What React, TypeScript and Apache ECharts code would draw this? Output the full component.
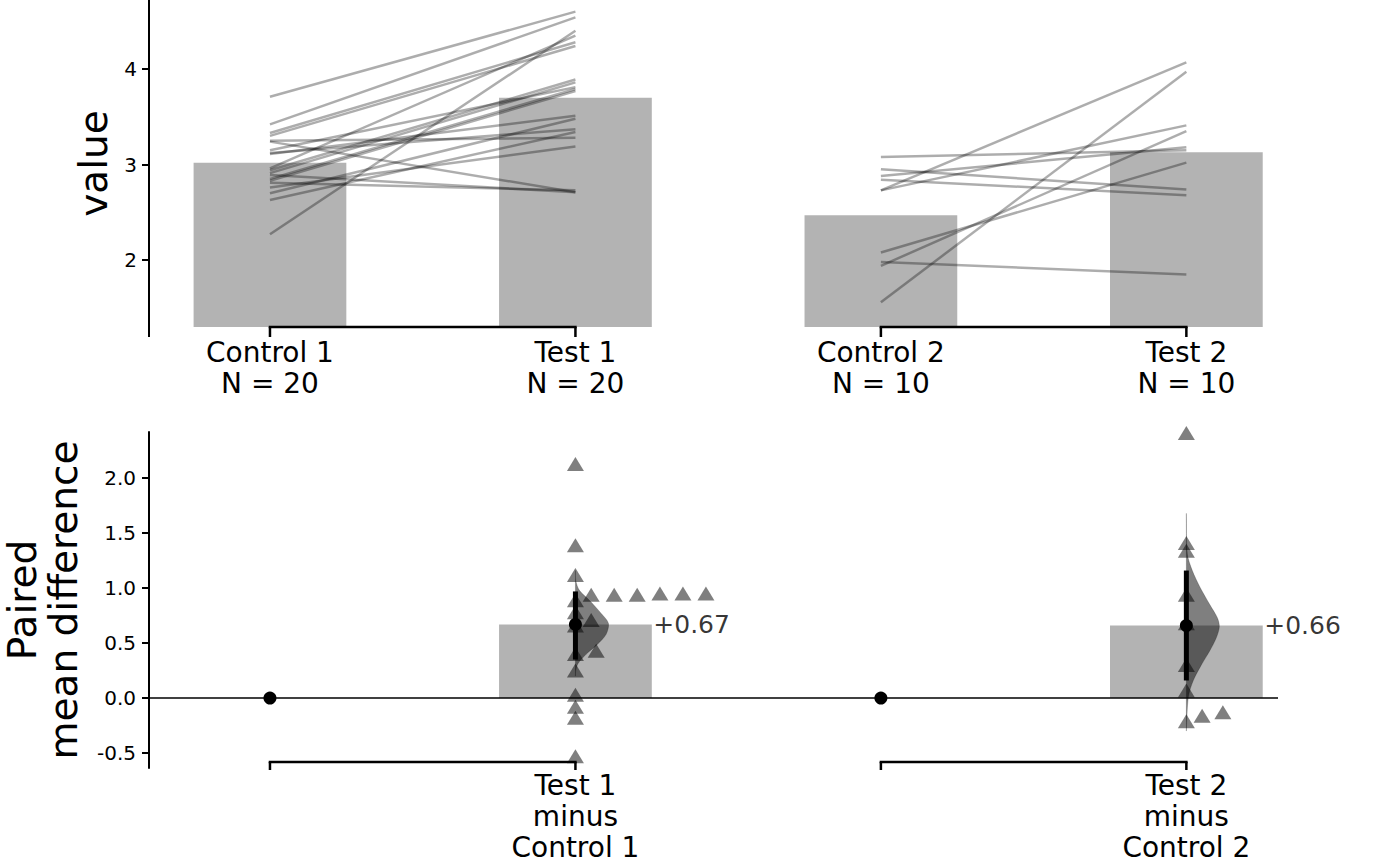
import React, { useEffect, useRef } from "react";
import * as echarts from "echarts";

const FONT = "DejaVu Sans";

// ---------- data ----------
const categories = ["Control 1", "Test 1", "Control 2", "Test 2"];
const sampleSizes = [20, 20, 10, 10];
const groupMeans = [3.02, 3.7, 2.47, 3.13];

const control1 = [3.71, 3.42, 2.27, 2.96, 3.33, 3.3, 3.25, 3.24, 2.89, 2.81, 2.94, 2.91, 2.85, 2.83, 2.7, 3.12, 2.63, 2.76, 3.15, 3.11];
const test1 = [4.6, 4.54, 4.4, 4.35, 4.28, 4.24, 3.28, 2.71, 2.71, 2.73, 3.89, 3.86, 3.79, 3.77, 3.48, 3.37, 3.34, 3.19, 3.81, 3.51];
const control2 = [1.56, 2.73, 2.73, 2.08, 1.94, 1.98, 3.08, 2.95, 2.88, 2.84];
const test2 = [3.97, 4.07, 3.41, 3.02, 3.35, 1.85, 3.15, 2.74, 3.18, 2.68];

const topTicks = [2, 3, 4];
const diffTicks = [-0.5, 0, 0.5, 1, 1.5, 2];

const contrastLabels = ["Test 1\nminus\nControl 1", "Test 2\nminus\nControl 2"];
const contrastPositions = [1, 3];
const referencePositions = [0, 2];
const meanDiffs = [0.67, 0.66];
const ciLow = [0.35, 0.16];
const ciHigh = [0.97, 1.16];

const violin1Values = [1.16, 1.07, 0.98, 0.89, 0.77, 0.68, 0.58, 0.49, 0.4, 0.31, 0.25, 0.2];
const violin1Density = [0, 0.01, 0.12, 0.42, 0.78, 1.0, 0.93, 0.67, 0.33, 0.07, 0.01, 0];
const violin2Values = [1.68, 1.31, 1.16, 1.01, 0.85, 0.73, 0.65, 0.55, 0.43, 0.31, 0.16, 0.01, -0.3];
const violin2Density = [0, 0.03, 0.18, 0.41, 0.71, 0.94, 1.0, 0.91, 0.71, 0.47, 0.21, 0.06, 0];

// ---------- layout / style ----------
const X_MIN = -0.396;
const X_MAX = 3.3;
const TOP_MIN = 1.3;
const TOP_MAX = 4.722;
const DIFF_MIN = -0.636;
const DIFF_MAX = 2.42;
const GRID_LEFT = 149;
const GRID_WIDTH = 1129;
const TOP_GRID_TOP = 0;
const TOP_GRID_H = 327;
const BOT_GRID_TOP = 432;
const BOT_GRID_H = 336;
const BAR_HALF = 0.25;
const VIOLIN_HALF = 0.108;
const BAR_COLOR = "#b3b3b3";

const round2 = (v: number) => Math.round(v * 100) / 100;
const diffs1 = test1.map((t, i) => round2(t - control1[i]));
const diffs2 = test2.map((t, i) => round2(t - control2[i]));

function swarm(values: number[], center: number): number[][] {
  const pxPerX = GRID_WIDTH / (X_MAX - X_MIN);
  const pxPerY = BOT_GRID_H / (DIFF_MAX - DIFF_MIN);
  const W = 23;
  const H = 7.5;
  const order = values.map((_, i) => i).sort((a, b) => values[a] - values[b]);
  const placed: { x: number; y: number }[] = [];
  const out: number[][] = new Array(values.length);
  for (const i of order) {
    const ypx = values[i] * pxPerY;
    let dx = 0;
    for (let step = 0; step < 2000; step++) {
      dx = step * 0.25;
      const ok = placed.every((p) => ((p.x - dx) / W) ** 2 + ((p.y - ypx) / H) ** 2 >= 0.999);
      if (ok) break;
    }
    placed.push({ x: dx, y: ypx });
    out[i] = [center + dx / pxPerX, values[i]];
  }
  return out;
}

export default function App() {
  const ref = useRef<HTMLDivElement>(null);
  useEffect(() => {
    if (!ref.current) return;
    const chart = echarts.init(ref.current, undefined, { renderer: "svg" });

    const black = "#000";
    const lineSeries = [
      ...control1.map((c, i) => [c, test1[i], 0]),
      ...control2.map((c, i) => [c, test2[i], 2]),
    ].map(([c, t, x0]) => ({
      type: "line",
      xAxisIndex: 0,
      yAxisIndex: 0,
      data: [
        [x0, c],
        [x0 + 1, t],
      ],
      symbol: "none",
      silent: true,
      lineStyle: { color: "rgba(0,0,0,0.32)", width: 2.5 },
    }));

    const barRender = (base: number) => (params: any, api: any) => {
      const x = api.value(0);
      const v = api.value(1);
      const p1 = api.coord([x - BAR_HALF, v]);
      const p2 = api.coord([x + BAR_HALF, base]);
      return {
        type: "rect",
        shape: { x: p1[0], y: Math.min(p1[1], p2[1]), width: p2[0] - p1[0], height: Math.abs(p2[1] - p1[1]) },
        style: { fill: BAR_COLOR },
      };
    };

    const bracketRender = (yVal: number, offset: number, tickLen: number, spineExt: number) => (params: any, api: any) => {
      const a = api.coord([api.value(0), yVal]);
      const b = api.coord([api.value(1), yVal]);
      const y = a[1] + offset;
      const st = { stroke: black, lineWidth: 2.5 };
      const children: any[] = [
        { type: "line", shape: { x1: a[0] - 1.25, y1: y, x2: b[0] + 1.25, y2: y }, style: st },
        { type: "line", shape: { x1: a[0], y1: y, x2: a[0], y2: y + tickLen }, style: st },
        { type: "line", shape: { x1: b[0], y1: y, x2: b[0], y2: y + tickLen }, style: st },
      ];
      if (params.dataIndex === 0 && spineExt > 0) {
        const s = api.coord([X_MIN, yVal]);
        children.push({ type: "line", shape: { x1: s[0], y1: s[1], x2: s[0], y2: s[1] + spineExt }, style: { stroke: black, lineWidth: 2 } });
      }
      return { type: "group", children };
    };

    const violinSeries = (x: number, vals: number[], dens: number[]) => ({
      type: "custom",
      xAxisIndex: 1,
      yAxisIndex: 1,
      data: [[x]],
      silent: true,
      renderItem: (params: any, api: any) => {
        const pts: number[][] = [];
        vals.forEach((v, i) => pts.push(api.coord([x + dens[i] * VIOLIN_HALF, v])));
        for (let i = vals.length - 1; i >= 0; i--) pts.push(api.coord([x, vals[i]]));
        return {
          type: "polygon",
          shape: { points: pts, smooth: 0.3 },
          style: { fill: "rgba(0,0,0,0.5)", stroke: "rgba(0,0,0,0.25)", lineWidth: 0.8 },
        };
      },
    });

    const swarmPoints = [...swarm(diffs1, contrastPositions[0]), ...swarm(diffs2, contrastPositions[1])];

    const axisText = { color: black, fontFamily: FONT };

    const option: any = {
      animation: false,
      backgroundColor: "#fff",
      grid: [
        { left: GRID_LEFT, width: GRID_WIDTH, top: TOP_GRID_TOP, height: TOP_GRID_H, containLabel: false, outerBoundsMode: "none" },
        { left: GRID_LEFT, width: GRID_WIDTH, top: BOT_GRID_TOP, height: BOT_GRID_H, containLabel: false, outerBoundsMode: "none" },
      ],
      xAxis: [
        {
          gridIndex: 0,
          type: "value",
          min: X_MIN,
          max: X_MAX,
          axisLine: { show: false, onZero: false },
          axisTick: { show: false },
          splitLine: { show: false },
          axisLabel: {
            ...axisText,
            customValues: [0, 1, 2, 3],
            fontSize: 28,
            lineHeight: 31,
            margin: 10,
            formatter: (v: number) => {
              const i = Math.round(v);
              return `${categories[i]}\nN = ${sampleSizes[i]}`;
            },
          },
        },
        {
          gridIndex: 1,
          type: "value",
          min: X_MIN,
          max: X_MAX,
          axisLine: { show: false, onZero: false },
          axisTick: { show: false },
          splitLine: { show: false },
          axisLabel: {
            ...axisText,
            customValues: contrastPositions,
            fontSize: 28,
            lineHeight: 31,
            margin: 2,
            formatter: (v: number) => contrastLabels[contrastPositions.indexOf(Math.round(v))],
          },
        },
      ],
      yAxis: [
        {
          gridIndex: 0,
          type: "value",
          min: TOP_MIN,
          max: TOP_MAX,
          axisLine: { show: true, onZero: false, lineStyle: { color: black, width: 2 } },
          axisTick: { show: true, customValues: topTicks, length: 7, lineStyle: { color: black, width: 2 } },
          axisLabel: { ...axisText, customValues: topTicks, fontSize: 20, margin: 12, formatter: (v: number) => String(v) },
          splitLine: { show: false },
          name: "value",
          nameLocation: "middle",
          nameGap: 36,
          nameTextStyle: { ...axisText, fontSize: 39 },
        },
        {
          gridIndex: 1,
          type: "value",
          min: DIFF_MIN,
          max: DIFF_MAX,
          axisLine: { show: true, onZero: false, lineStyle: { color: black, width: 2 } },
          axisTick: { show: true, customValues: diffTicks, length: 7, lineStyle: { color: black, width: 2 } },
          axisLabel: { ...axisText, customValues: diffTicks, fontSize: 20, margin: 13, formatter: (v: number) => v.toFixed(1) },
          splitLine: { show: false },
          name: "Paired\nmean difference",
          nameLocation: "middle",
          nameGap: 65,
          nameTextStyle: { ...axisText, fontSize: 39, lineHeight: 41 },
        },
      ],
      series: [
        {
          type: "custom",
          xAxisIndex: 0,
          yAxisIndex: 0,
          data: groupMeans.map((m, i) => [i, m]),
          clip: true,
          silent: true,
          renderItem: barRender(0),
        },
        ...lineSeries,
        {
          type: "custom",
          xAxisIndex: 0,
          yAxisIndex: 0,
          data: [
            [0, 1],
            [2, 3],
          ],
          silent: true,
          renderItem: bracketRender(TOP_MIN, 0, 10, 10),
        },
        {
          type: "custom",
          xAxisIndex: 1,
          yAxisIndex: 1,
          data: meanDiffs.map((m, i) => [contrastPositions[i], m]),
          silent: true,
          renderItem: barRender(0),
        },
        {
          type: "line",
          xAxisIndex: 1,
          yAxisIndex: 1,
          data: [
            [X_MIN, 0],
            [X_MAX, 0],
          ],
          symbol: "none",
          silent: true,
          lineStyle: { color: black, width: 1.5 },
        },
        violinSeries(contrastPositions[0], violin1Values, violin1Density),
        violinSeries(contrastPositions[1], violin2Values, violin2Density),
        {
          type: "scatter",
          xAxisIndex: 1,
          yAxisIndex: 1,
          data: swarmPoints,
          symbol: "triangle",
          symbolSize: [17, 14],
          silent: true,
          itemStyle: { color: "rgba(0,0,0,0.5)", opacity: 1 },
        },
        {
          type: "custom",
          xAxisIndex: 1,
          yAxisIndex: 1,
          data: contrastPositions.map((x, i) => [x, ciLow[i], ciHigh[i]]),
          silent: true,
          renderItem: (params: any, api: any) => {
            const a = api.coord([api.value(0), api.value(1)]);
            const b = api.coord([api.value(0), api.value(2)]);
            return { type: "line", shape: { x1: a[0], y1: a[1], x2: b[0], y2: b[1] }, style: { stroke: black, lineWidth: 5 } };
          },
        },
        {
          type: "scatter",
          xAxisIndex: 1,
          yAxisIndex: 1,
          data: [...referencePositions.map((x) => [x, 0]), ...contrastPositions.map((x, i) => [x, meanDiffs[i]])],
          symbol: "circle",
          symbolSize: 13,
          silent: true,
          itemStyle: { color: black, opacity: 1 },
        },
        {
          type: "scatter",
          xAxisIndex: 1,
          yAxisIndex: 1,
          data: contrastPositions.map((x, i) => [x + BAR_HALF, meanDiffs[i]]),
          symbolSize: 1,
          silent: true,
          itemStyle: { color: "rgba(0,0,0,0)" },
          label: {
            show: true,
            position: "right",
            distance: 1,
            color: black,
            fontFamily: FONT,
            fontSize: 25,
            formatter: (p: any) => "+" + meanDiffs[p.dataIndex].toFixed(2),
          },
        },
        {
          type: "custom",
          xAxisIndex: 1,
          yAxisIndex: 1,
          data: [
            [0, 1],
            [2, 3],
          ],
          silent: true,
          renderItem: bracketRender(DIFF_MIN, -6, 8, 0),
        },
      ],
    };

    chart.setOption(option);
    return () => chart.dispose();
  }, []);

  return <div ref={ref} style={{ position: "absolute", left: 0, top: 0, width: 1400, height: 865 }} />;
}
